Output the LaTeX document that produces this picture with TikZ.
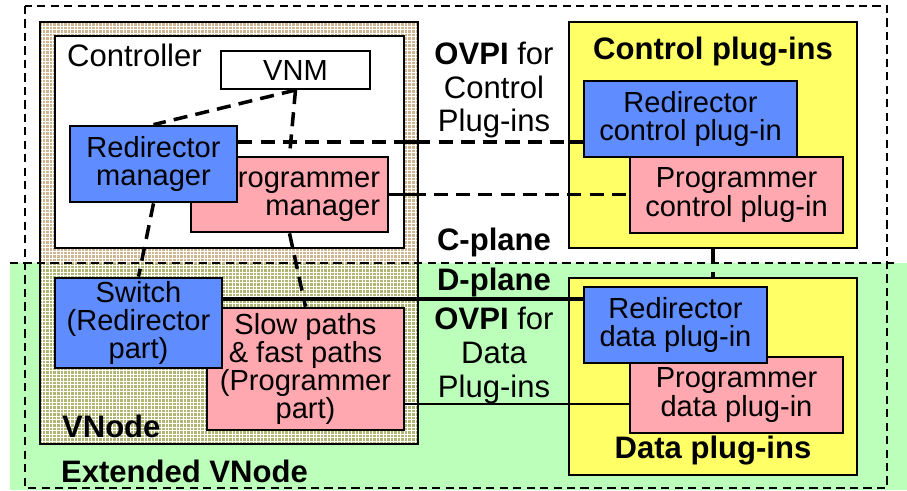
\documentclass[tikz,border=0pt]{standalone}
\usepackage{fontspec}
\setmainfont{Liberation Sans}
\usetikzlibrary{calc,fit,patterns}
\definecolor{rdblue}{HTML}{5F8CFF}
\definecolor{pgpink}{HTML}{FFA8B0}
\definecolor{plugyel}{HTML}{FFFF66}
\definecolor{dgreen}{HTML}{BBFFBB}
\definecolor{vtan}{HTML}{A87A38}
\newcommand\boxfont{\fontsize{24.8}{24}\selectfont}
\newcommand\lblfont{\fontsize{26.5}{29}\selectfont}

\begin{document}
\begin{tikzpicture}[x=0.03cm, y=-0.03cm,
  box/.style={draw, line width=2.3pt, inner sep=0pt, font=\boxfont, align=center},
  sized/.style 2 args={minimum width=#1*0.03cm, minimum height=#2*0.03cm},
  rdbox/.style={box, fill=rdblue},
  pgbox/.style={box, fill=pgpink},
  plugarea/.style={draw, line width=2.3pt, fill=plugyel, inner sep=0pt},
  ctl/.style={line width=3pt, dash pattern=on 12pt off 7pt},
  dat/.style={line width=2.2pt},
  thindash/.style={line width=1.6pt, dash pattern=on 7pt off 4.5pt},
]
\useasboundingbox (0,0) rectangle (907,490);
% D-plane background
\fill[dgreen] (10,263) rectangle (907,490);
% VNode and its controller
\node[draw, line width=2.3pt, inner sep=0pt, preaction={fill=vtan, fill opacity=0.55},
  pattern=grid, pattern color=white, fill opacity=0.25, fit={(40,22) (418,444)}] (vnode) {};
\node[draw, fill=white, line width=2.3pt, inner sep=0pt, fit={(55,36) (404,248)}] (ctrl) {};
\node[font=\lblfont, anchor=base west] (ctrllbl) at (63,66) {Controller};
\node[font=\lblfont\bfseries, anchor=base west] (vnlbl) at (58,437) {VNode};
% plane border and outer frame
\draw[thindash] (10,263) -- (898,263);
\draw[thindash] (25,6) rectangle (887,488);
\node[font=\lblfont\bfseries, anchor=base west] (evnlbl) at (57,482) {Extended VNode};

% boxes inside the VNode
\node[box, fill=white, line width=1.8pt, sized={149}{38}] (vnm) at (295.5,70) {VNM};
\node[pgbox, sized={197}{75}, text width=5.43cm, align=right] (pm) at (289.5,194.5) {Programmer\\manager};
\node[rdbox, sized={167}{76}] (rm) at (153.5,164) {Redirector\\manager};
\node[pgbox, sized={197}{122}] (sp) at (305.5,369) {Slow paths\\\& fast paths\\(Programmer\\part)};
\node[rdbox, sized={167}{90}] (sw) at (138.5,323) {Switch\\(Redirector\\part)};

% plug-in areas
\node[plugarea, fit={(569,22) (857,248)}] (cpi) {};
\node[font=\lblfont\bfseries, anchor=base] (cpilbl) at (713,59) {Control plug-ins};
\node[rdbox, sized={213}{76}] (rcp) at (690.5,119) {Redirector\\control plug-in};
\node[pgbox, sized={213}{76}] (pcp) at (736.5,195) {Programmer\\control plug-in};
\node[plugarea, fit={(569,278) (857,475)}] (dpi) {};
\node[font=\lblfont\bfseries, anchor=base] (dpilbl) at (713,458) {Data plug-ins};
\node[pgbox, sized={213}{76}] (pdp) at (736.5,395) {Programmer\\data plug-in};
\node[rdbox, sized={183}{76}] (rdp) at (675.5,325) {Redirector\\data plug-in};

% interface labels
\node[font=\lblfont, align=center] (ovc) at (494,90) {\textbf{OVPI} for\\Control\\Plug-ins};
\node[font=\lblfont\bfseries, anchor=base] (cpl) at (494,250) {C-plane};
\node[font=\lblfont\bfseries, anchor=base] (dpl) at (494,290) {D-plane};
\node[font=\lblfont, align=center] (ovd) at (494,355) {\textbf{OVPI} for\\Data\\Plug-ins};

% control connections
\draw[ctl] (vnm.south) -- (rm.north);
\draw[ctl] (vnm.south) -- (pm.north);
\draw[ctl] (rm.south) -- (sw.north);
\draw[ctl] (pm.south) -- (sp.north);
\draw[ctl] ($(rm.east)+(0,-22)$) coordinate (rmo) -- (rmo -| rcp.west);
\draw[dat, line width=3pt] (ctrl.east |- rmo) -- (vnode.east |- rmo);
\draw[dat, line width=3pt] (cpi.west |- rmo) -- (rcp.west |- rmo);
\draw[ctl] (pm.east) -- (pm.east -| pcp.west);
\draw[dat, line width=3pt] (pm.east) -- (vnode.east |- pm.east);
\draw[ctl] (cpi.south) -- (dpi.north);
% data connections
\draw[dat, line width=3.4pt] ($(sw.east)+(0,-24)$) coordinate (swo) -- (swo -| rdp.west);
\draw[dat] ($(sp.east)+(0,35)$) coordinate (spo) -- (spo -| pdp.west);
\end{tikzpicture}
\end{document}
